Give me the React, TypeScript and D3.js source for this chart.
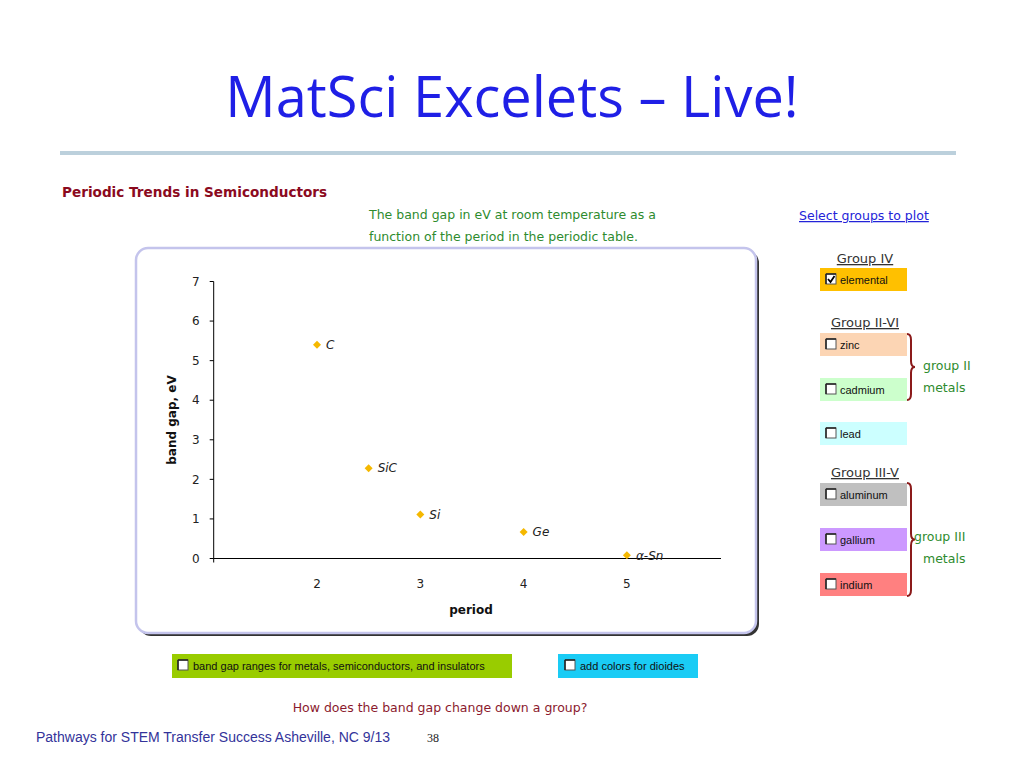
import React from "react";
import * as d3 from "d3";

const periods = [2, 2.5, 3, 4, 5];
const bandGaps = [5.4, 2.28, 1.11, 0.67, 0.08];
const materials = ["C", "SiC", "Si", "Ge", "α-Sn"];
const yTicks = [0, 1, 2, 3, 4, 5, 6, 7];
const xTicks = [2, 3, 4, 5];

const groupItems = [
  { label: "elemental", color: "#FFC000", checked: true, y: 268 },
  { label: "zinc", color: "#FCD5B4", checked: false, y: 333 },
  { label: "cadmium", color: "#CCFFCC", checked: false, y: 378 },
  { label: "lead", color: "#CCFFFF", checked: false, y: 422 },
  { label: "aluminum", color: "#C0C0C0", checked: false, y: 483 },
  { label: "gallium", color: "#CC99FF", checked: false, y: 528 },
  { label: "indium", color: "#FF8080", checked: false, y: 573 },
];

const comic = "'DejaVu Sans', sans-serif";

function Checkbox({ x, y, checked }: { x: number; y: number; checked: boolean }) {
  return (
    <g>
      <rect x={x} y={y} width={10} height={10} fill="#fff" stroke="#555" strokeWidth={1} />
      <line x1={x} y1={y} x2={x + 10} y2={y} stroke="#222" strokeWidth={1.5} />
      <line x1={x} y1={y} x2={x} y2={y + 10} stroke="#222" strokeWidth={1.5} />
      {checked && (
        <path d={`M${x + 2},${y + 5} L${x + 4.5},${y + 8} L${x + 8.5},${y + 2}`} fill="none" stroke="#000" strokeWidth={1.8} />
      )}
    </g>
  );
}

function Brace({ x, y1, y2 }: { x: number; y1: number; y2: number }) {
  const m = (y1 + y2) / 2;
  const d = `M${x - 3},${y1} Q${x + 1},${y1} ${x + 1},${y1 + 6} L${x + 1},${m - 6} Q${x + 1},${m} ${x + 5},${m} Q${x + 1},${m} ${x + 1},${m + 6} L${x + 1},${y2 - 6} Q${x + 1},${y2} ${x - 3},${y2}`;
  return <path d={d} fill="none" stroke="#8B1A1A" strokeWidth={2} />;
}

export default function App() {
  const x = d3.scaleLinear().domain([1, 6]).range([213.7, 730.2]);
  const y = d3.scaleLinear().domain([0, 7]).range([558.5, 281.5]);
  const diamond = "M0,-4L4,0L0,4L-4,0Z";
  const xEnd = 721;

  return (
    <svg width={1024} height={768} style={{ position: "absolute", left: 0, top: 0, background: "#fff" }}>
      <rect x={0} y={0} width={1024} height={768} fill="#fff" />
      {/* Title */}
      <text x={512} y={117} textAnchor="middle" fill="#1F1FE6" fontFamily="'Open Sans', 'Liberation Sans', sans-serif" fontSize={56}>
        MatSci Excelets – Live!
      </text>
      <rect x={60} y={151} width={896} height={4} fill="#BCD0DC" />

      {/* Header texts */}
      <text x={62} y={197} fill="#8B0A1E" fontFamily={comic} fontSize={13.6} fontWeight="bold">
        Periodic Trends in Semiconductors
      </text>
      <text x={369} y={219} fill="#2E8B2E" fontFamily={comic} fontSize={12.5}>
        The band gap in eV at room temperature as a
      </text>
      <text x={369} y={241} fill="#2E8B2E" fontFamily={comic} fontSize={12.5}>
        function of the period in the periodic table.
      </text>
      <text x={799} y={220} fill="#2323D8" fontFamily={comic} fontSize={12.5} textDecoration="underline">
        Select groups to plot
      </text>

      {/* Chart frame */}
      <rect x={139} y={251} width={620} height={385} rx={12} fill="#333" />
      <rect x={136} y={248} width={620} height={385} rx={12} fill="#fff" stroke="#C4C4EC" strokeWidth={2.5} />

      {/* Axes */}
      <line x1={x(1)} y1={y(0)} x2={xEnd} y2={y(0)} stroke="#000" strokeWidth={1} />
      <line x1={x(1)} y1={y(0) + 4} x2={x(1)} y2={y(7)} stroke="#000" strokeWidth={1} />
      {yTicks.map((t) => (
        <g key={t}>
          <line x1={x(1) - 4} x2={x(1)} y1={y(t)} y2={y(t)} stroke="#000" />
          <text x={x(1) - 14} y={y(t)} dy="0.35em" textAnchor="end" fill="#222" fontFamily={comic} fontSize={12}>
            {t}
          </text>
        </g>
      ))}
      {xTicks.map((t) => (
        <text key={t} x={x(t)} y={588} textAnchor="middle" fill="#222" fontFamily={comic} fontSize={12}>
          {t}
        </text>
      ))}
      <text x={471} y={614} textAnchor="middle" fill="#111" fontFamily={comic} fontSize={12} fontWeight="bold">
        period
      </text>
      <text transform={`translate(176,420) rotate(-90)`} textAnchor="middle" fill="#111" fontFamily={comic} fontSize={12} fontWeight="bold">
        band gap, eV
      </text>

      {/* Points */}
      {periods.map((p, i) => (
        <g key={materials[i]}>
          <path d={diamond} transform={`translate(${x(p)},${y(bandGaps[i])})`} fill="#F5B800" />
          <text x={x(p) + 9} y={y(bandGaps[i])} dy="0.35em" fill="#222" fontFamily={comic} fontSize={12} fontStyle="italic">
            {materials[i]}
          </text>
        </g>
      ))}

      {/* Right panel */}
      <text x={865} y={263} textAnchor="middle" fill="#333" fontFamily={comic} fontSize={13} textDecoration="underline">
        Group IV
      </text>
      <text x={865} y={327} textAnchor="middle" fill="#333" fontFamily={comic} fontSize={13} textDecoration="underline">
        Group II-VI
      </text>
      <text x={865} y={477} textAnchor="middle" fill="#333" fontFamily={comic} fontSize={13} textDecoration="underline">
        Group III-V
      </text>
      {groupItems.map((g) => (
        <g key={g.label}>
          <rect x={820} y={g.y} width={87} height={23} fill={g.color} />
          <Checkbox x={826} y={g.y + 6} checked={g.checked} />
          <text x={840} y={g.y + 12} dy="0.35em" fill="#111" fontFamily="'Liberation Sans', Arial, sans-serif" fontSize={11}>
            {g.label}
          </text>
        </g>
      ))}
      <Brace x={910} y1={334} y2={400} />
      <Brace x={910} y1={483} y2={596} />
      <text x={923} y={370} fill="#2E8B2E" fontFamily={comic} fontSize={12.5}>group II</text>
      <text x={923} y={392} fill="#2E8B2E" fontFamily={comic} fontSize={12.5}>metals</text>
      <text x={914} y={541} fill="#2E8B2E" fontFamily={comic} fontSize={12.5}>group III</text>
      <text x={923} y={563} fill="#2E8B2E" fontFamily={comic} fontSize={12.5}>metals</text>

      {/* Bottom controls */}
      <rect x={172} y={654} width={340} height={24} fill="#99CC00" />
      <Checkbox x={178} y={660} checked={false} />
      <text x={193} y={666} dy="0.35em" fill="#111" fontFamily="'Liberation Sans', Arial, sans-serif" fontSize={11}>
        band gap ranges for metals, semiconductors, and insulators
      </text>
      <rect x={558} y={654} width={140} height={24} fill="#1ACCF5" />
      <Checkbox x={565} y={660} checked={false} />
      <text x={580} y={666} dy="0.35em" fill="#111" fontFamily="'Liberation Sans', Arial, sans-serif" fontSize={11}>
        add colors for dioides
      </text>
      <text x={440} y={712} textAnchor="middle" fill="#8B1A2E" fontFamily={comic} fontSize={12.5}>
        How does the band gap change down a group?
      </text>

      {/* Footer */}
      <text x={36} y={742} fill="#33339A" fontFamily="'Liberation Sans', Arial, sans-serif" fontSize={14}>
        Pathways for STEM Transfer Success Asheville, NC 9/13
      </text>
      <text x={427} y={742} fill="#222" fontFamily="'Liberation Serif', serif" fontSize={12}>
        38
      </text>
    </svg>
  );
}
